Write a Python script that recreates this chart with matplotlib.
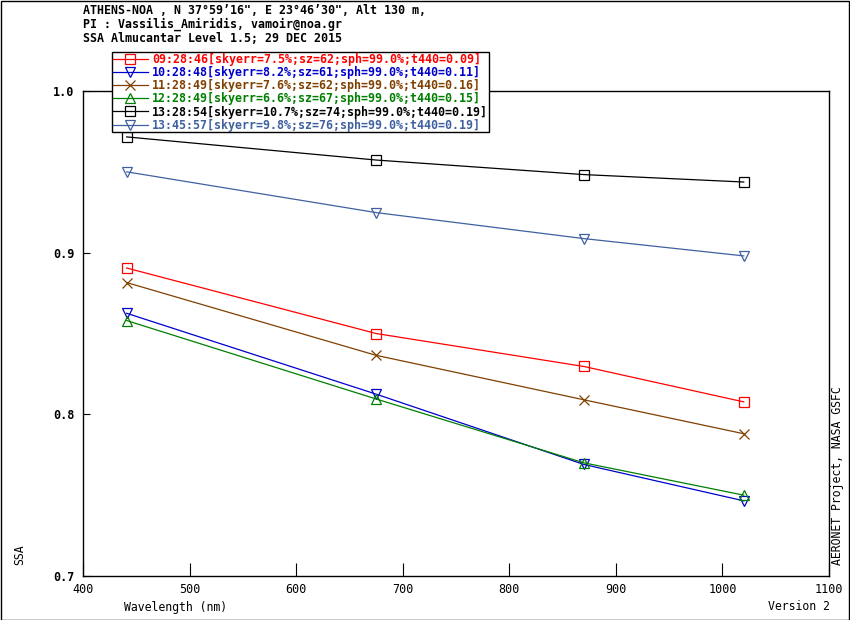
import matplotlib
matplotlib.use("Agg")
import matplotlib.pyplot as plt
from matplotlib.patches import Rectangle

# wavelengths (nm) and SSA values
wavelengths = [441, 675, 870, 1020]

times = ["09:28:46", "10:28:48", "11:28:49", "12:28:49", "13:28:54", "13:45:57"]
skyerr = ["7.5", "8.2", "7.6", "6.6", "10.7", "9.8"]
sz = [62, 61, 62, 67, 74, 76]
sph = ["99.0"] * 6
t440 = ["0.09", "0.11", "0.16", "0.15", "0.19", "0.19"]

ssa_0928 = [0.8905, 0.850, 0.8296, 0.8077]
ssa_1028 = [0.8625, 0.8125, 0.769, 0.7465]
ssa_1128 = [0.8815, 0.8365, 0.809, 0.788]
ssa_1228 = [0.858, 0.8095, 0.770, 0.750]
ssa_1328 = [0.9716, 0.9573, 0.9483, 0.9437]
ssa_1345 = [0.950, 0.9248, 0.9087, 0.898]
series = [ssa_0928, ssa_1028, ssa_1128, ssa_1228, ssa_1328, ssa_1345]

colors = ["#ff0000", "#0000cc", "#804000", "#008000", "#000000", "#4060a0"]
markers = ["s", "v", "x", "^", "s", "v"]

mono = "DejaVu Sans Mono"

W, H = 850, 620
fig = plt.figure(figsize=(W / 100, H / 100), dpi=100)
# axes box in pixels: x 83..829, y 91..576
ax = fig.add_axes([83 / W, 1 - 576 / H, (829 - 83) / W, (576 - 91) / H])

for i, vals in enumerate(series):
    label = f"{times[i]}[skyerr={skyerr[i]}%;sz={sz[i]};sph={sph[i]}%;t440={t440[i]}]"
    ax.plot(wavelengths, vals, color=colors[i], lw=0.9, marker=markers[i],
            markersize=6.6, markerfacecolor="none", markeredgecolor=colors[i],
            markeredgewidth=0.9, label=label)

ax.set_xlim(400, 1100)
ax.set_ylim(0.7, 1.0)
ax.set_xticks(range(400, 1101, 100))
ax.set_yticks([0.7, 0.8, 0.9, 1.0])
ax.set_yticklabels(["0.7", "0.8", "0.9", "1.0"], fontfamily=mono,
                   fontweight="bold", fontsize=8.5)
ax.set_xticklabels([str(v) for v in range(400, 1101, 100)], fontfamily=mono,
                   fontsize=8.5)
ax.tick_params(axis="x", direction="in", length=9.5, width=0.8, pad=5)
ax.tick_params(axis="y", direction="in", length=5, width=0.8, pad=6)
for s in ax.spines.values():
    s.set_linewidth(1.0)

leg = ax.legend(loc="upper left", bbox_to_anchor=(112 / W, 1 - 52 / H),
                bbox_transform=fig.transFigure, borderaxespad=0,
                prop={"family": mono, "weight": "bold", "size": 8.4},
                frameon=True, fancybox=False, edgecolor="black",
                framealpha=1, handlelength=3.0, handletextpad=0.4,
                labelspacing=0.02, borderpad=0.05)
leg.get_frame().set_linewidth(1.0)
for txt, c in zip(leg.get_texts(), colors):
    txt.set_color(c)
leg.set_zorder(5)

# header text
header = ["ATHENS-NOA , N 37\u00b059\u201916\", E 23\u00b046\u201930\", Alt 130 m,",
          "PI : Vassilis_Amiridis, vamoir@noa.gr",
          "SSA Almucantar Level 1.5; 29 DEC 2015"]
for k, line in enumerate(header):
    fig.text(83 / W, 1 - (10 + 14.5 * k) / H, line, family=mono, weight="bold",
             fontsize=8.4, ha="left", va="center")

fig.text(124 / W, 1 - 607 / H, "Wavelength (nm)", family=mono, fontsize=8.3,
         ha="left", va="center")
fig.text(830 / W, 1 - 607 / H, "Version 2", family=mono, fontsize=8.3,
         ha="right", va="center")
fig.text(20 / W, 1 - 555 / H, "SSA", family=mono, fontsize=8.3,
         rotation=90, ha="center", va="center")
fig.text(838 / W, 1 - 565 / H, "AERONET Project, NASA GSFC", family=mono,
         fontsize=8.3, rotation=90, ha="center", va="bottom")

# frame around the whole picture
fig.patches.append(Rectangle((0.5 / W, 0.5 / H), 1 - 1.5 / W, 1 - 1.5 / H,
                             transform=fig.transFigure, fill=False,
                             edgecolor="black", linewidth=1.0))

fig.savefig("out.png", dpi=100)
